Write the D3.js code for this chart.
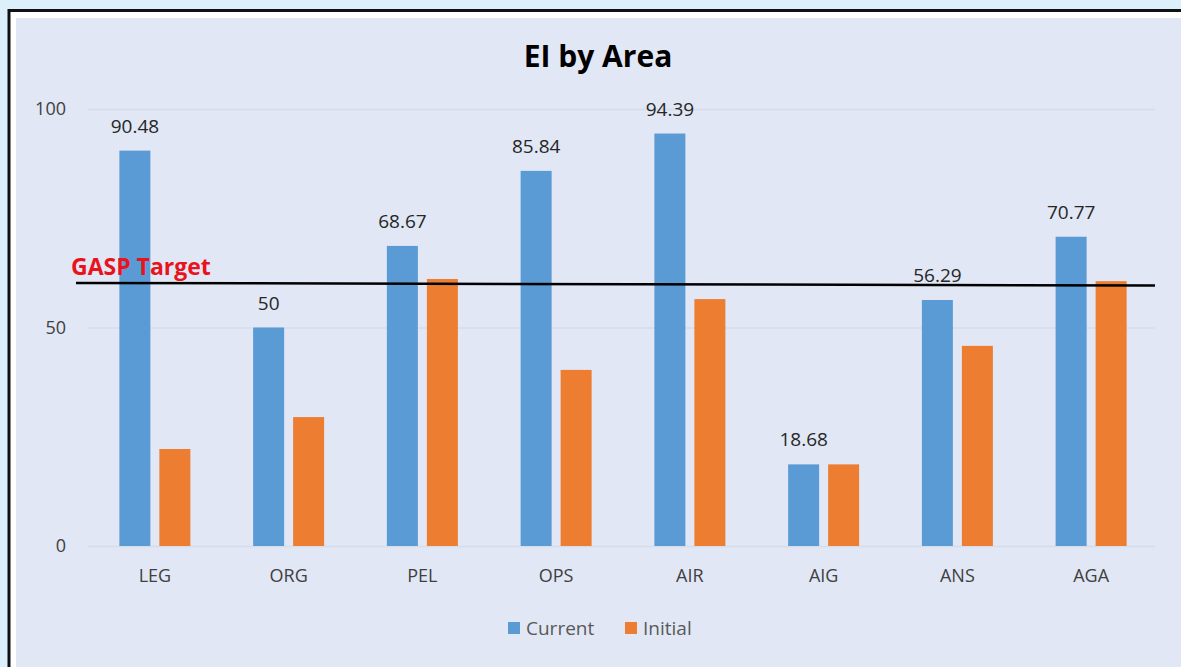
<!DOCTYPE html>
<html>
<head>
<meta charset="utf-8">
<script src="https://cdn.jsdelivr.net/npm/d3@7"></script>
<style>
  html, body { margin: 0; padding: 0; background: #dcf0fc; }
  svg { display: block; }
</style>
</head>
<body>
<svg id="chart" width="1181" height="667"></svg>
<script>
// Chart data
const categories = ["LEG", "ORG", "PEL", "OPS", "AIR", "AIG", "ANS", "AGA"];
const currentValues = [90.48, 50, 68.67, 85.84, 94.39, 18.68, 56.29, 70.77];
const initialValues = [22.2, 29.5, 61.1, 40.3, 56.5, 18.68, 45.8, 60.6];
const seriesNames = ["Current", "Initial"];
const yTicks = [0, 50, 100];
const targetLabel = "GASP Target";
const targetStart = 60.2;   // target line value at its left end
const targetEnd = 59.6;     // target line value at its right end

const svg = d3.select("#chart");
const W = 1181, H = 667;
const font = "'Open Sans', sans-serif";
const colors = { Current: "#5b9bd5", Initial: "#ed7d31" };

// Frame: black outline, white inset, chart panel
svg.append("rect").attr("x", 9).attr("y", 10.5).attr("width", W + 10).attr("height", H + 10)
  .attr("fill", "#ffffff").attr("stroke", "#111").attr("stroke-width", 3);
svg.append("rect").attr("x", 16).attr("y", 18).attr("width", W).attr("height", H)
  .attr("fill", "#e1e7f5");

const plot = { left: 88, right: 1158, top: 109, bottom: 546 };

const x0 = d3.scaleBand().domain(categories).range([plot.left, plot.right]);
const x1 = d3.scaleBand().domain(seriesNames).range([-35.5, 35.5]).paddingInner(0.225);
const y = d3.scaleLinear().domain([0, 100]).range([plot.bottom, plot.top]);

// Gridlines
svg.append("g").selectAll("line").data(yTicks).join("line")
  .attr("x1", plot.left).attr("x2", plot.right - 3)
  .attr("y1", d => y(d) + 0.5).attr("y2", d => y(d) + 0.5)
  .attr("stroke", "#d6dce8").attr("stroke-width", 1.5);

// Y axis labels
const yAxis = d3.axisLeft(y).tickValues(yTicks).tickSize(0).tickPadding(0);
const gy = svg.append("g").attr("transform", `translate(66,0)`).call(yAxis);
gy.select(".domain").remove();
gy.selectAll("text").attr("font-family", font).attr("font-size", 18).attr("fill", "#404040");

// X axis labels
const xAxis = d3.axisBottom(x0).tickSize(0).tickPadding(0);
const gx = svg.append("g").attr("transform", `translate(0,${plot.bottom + 23})`).call(xAxis);
gx.select(".domain").remove();
gx.selectAll("text").attr("font-family", font).attr("font-size", 18).attr("fill", "#404040");

// Bars
const rows = categories.map((c, i) => ({ cat: c, Current: currentValues[i], Initial: initialValues[i] }));
const groups = svg.append("g").selectAll("g").data(rows).join("g")
  .attr("transform", d => `translate(${x0(d.cat) + x0.bandwidth() / 2},0)`);

groups.selectAll("rect").data(d => seriesNames.map(s => ({ s, v: d[s] }))).join("rect")
  .attr("x", d => x1(d.s))
  .attr("width", x1.bandwidth())
  .attr("y", d => y(d.v))
  .attr("height", d => y(0) - y(d.v))
  .attr("fill", d => colors[d.s]);

// Value labels on Current bars
groups.append("text")
  .attr("x", x1("Current") + x1.bandwidth() / 2)
  .attr("y", d => y(d.Current) - 18)
  .attr("text-anchor", "middle")
  .attr("font-family", font).attr("font-size", 19).attr("fill", "#262626")
  .text(d => d3.format("~f")(d.Current));

// Target line and label
svg.append("line")
  .attr("x1", 76).attr("x2", 1155)
  .attr("y1", y(targetStart)).attr("y2", y(targetEnd))
  .attr("stroke", "#000").attr("stroke-width", 2.5);
svg.append("text")
  .attr("x", 71).attr("y", 275)
  .attr("font-family", font).attr("font-weight", "bold").attr("font-size", 23)
  .attr("fill", "#e8141c")
  .text(targetLabel);

// Title
svg.append("text")
  .attr("x", 598).attr("y", 67)
  .attr("text-anchor", "middle")
  .attr("font-family", font).attr("font-weight", "bold").attr("font-size", 30)
  .attr("fill", "#000")
  .text("EI by Area");

// Legend
const legend = svg.append("g").attr("transform", "translate(0,628)");
const legendItems = [{ s: "Current", x: 508 }, { s: "Initial", x: 625 }];
legendItems.forEach(it => {
  legend.append("rect").attr("x", it.x).attr("y", -6).attr("width", 12).attr("height", 12)
    .attr("fill", colors[it.s]);
  legend.append("text").attr("x", it.x + 18).attr("y", 7)
    .attr("font-family", font).attr("font-size", 19).attr("fill", "#595959")
    .text(it.s);
});
</script>
</body>
</html>
